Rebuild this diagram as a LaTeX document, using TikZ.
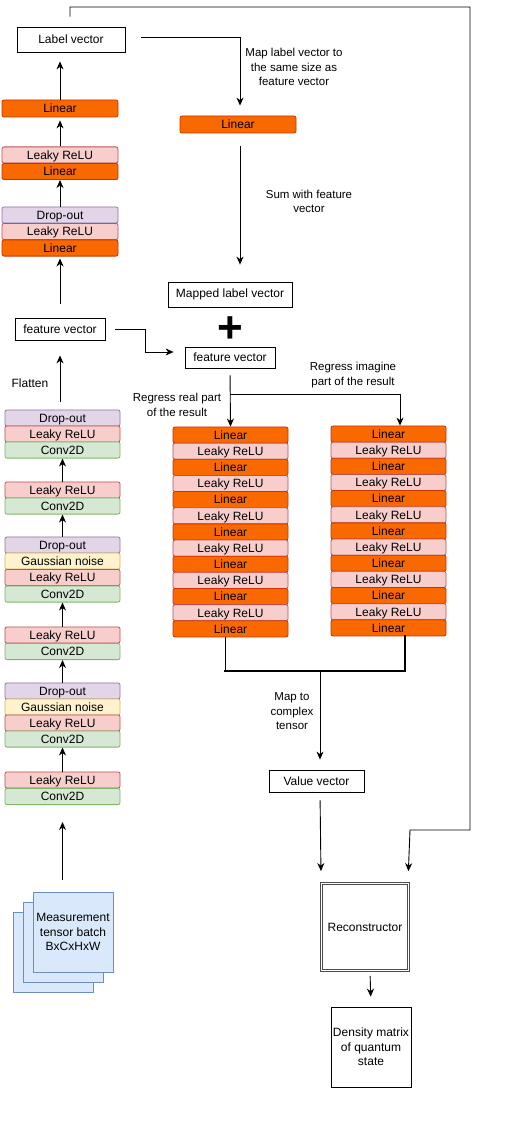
\documentclass[tikz,border=0pt]{standalone}
\usepackage{fontspec}
\setmainfont{Liberation Sans}
\usetikzlibrary{arrows.meta}
\definecolor{linF}{HTML}{FA6800}\definecolor{linD}{HTML}{C73500}
\definecolor{reluF}{HTML}{F8CECC}\definecolor{reluD}{HTML}{B85450}
\definecolor{dropF}{HTML}{E1D5E7}\definecolor{dropD}{HTML}{9673A6}
\definecolor{convF}{HTML}{D5E8D4}\definecolor{convD}{HTML}{82B366}
\definecolor{gausF}{HTML}{FFF2CC}\definecolor{gausD}{HTML}{D6B656}
\definecolor{measF}{HTML}{DAE8FC}\definecolor{measD}{HTML}{6C8EBF}
\begin{document}
\begin{tikzpicture}[x=1pt,y=-1pt,
 blk/.style={rectangle, rounded corners=2pt, minimum height=16.2pt, inner sep=0pt, line width=0.8pt, text height=8.6pt, text depth=0pt, font=\fontsize{12}{14.5}\selectfont},
 lin/.style={blk, fill=linF, draw=linD},
 relu/.style={blk, fill=reluF, draw=reluD},
 drop/.style={blk, fill=dropF, draw=dropD},
 conv/.style={blk, fill=convF, draw=convD},
 gaus/.style={blk, fill=gausF, draw=gausD},
 wa/.style={minimum width=116pt},
 wb/.style={minimum width=115pt},
 box/.style={rectangle, draw=black, line width=0.8pt, fill=white, inner sep=0pt, align=center, font=\fontsize{12}{14.5}\selectfont},
 measst/.style={draw=measD, fill=measF, line width=0.8pt},
 lbl/.style={inner sep=0pt, align=center, font=\fontsize{11.5}{14.5}\selectfont},
 arr/.style={-{Stealth[length=8pt,width=7pt,inset=2.5pt]}, line width=0.9pt},
 ln/.style={line width=0.9pt},
]
\useasboundingbox[fill=white] (0,0) rectangle (504,1134);

% label vector and top-left stack
\node[box, minimum width=108pt, minimum height=25pt] (lv) at (71,39.5) {Label vector};
\node[lin, wa, minimum height=17pt] (tl1) at (60,108.5) {Linear};
\node[relu, wa] (tl2) at (60,155) {Leaky ReLU};
\node[lin, wa] (tl3) at (60,171.5) {Linear};
\node[drop, wa] (tl4) at (60,215) {Drop-out};
\node[relu, wa] (tl5) at (60,231.5) {Leaky ReLU};
\node[lin, wa] (tl6) at (60,248) {Linear};

% middle top
\node[lin, minimum width=116pt, minimum height=17pt] (ml) at (238,124.5) {Linear};
\node[box, minimum width=124pt, minimum height=25pt] (mlv) at (230,294.5) {Mapped label vector};
\node[inner sep=0pt, font=\fontsize{44}{44}\selectfont\bfseries] (plus) at (230,330) {+};
\node[box, minimum width=90pt, minimum height=22pt] (fl) at (60,329) {feature vector};
\node[box, minimum width=90pt, minimum height=21pt] (fm) at (230,357.5) {feature vector};

% left lower stacks
\node[drop, wb] (a1) at (62.5,418) {Drop-out};
\node[relu, wb] (a2) at (62.5,434) {Leaky ReLU};
\node[conv, wb] (a3) at (62.5,450) {Conv2D};
\node[relu, wb] (b1) at (62.5,490) {Leaky ReLU};
\node[conv, wb] (b2) at (62.5,506) {Conv2D};
\node[drop, wb] (c1) at (62.5,545) {Drop-out};
\node[gaus, wb] (c2) at (62.5,561) {Gaussian noise};
\node[relu, wb] (c3) at (62.5,577.5) {Leaky ReLU};
\node[conv, wb] (c4) at (62.5,594) {Conv2D};
\node[relu, wb] (d1) at (62.5,635) {Leaky ReLU};
\node[conv, wb] (d2) at (62.5,651.5) {Conv2D};
\node[drop, wb] (e1) at (62.5,691) {Drop-out};
\node[gaus, wb] (e2) at (62.5,707) {Gaussian noise};
\node[relu, wb] (e3) at (62.5,723) {Leaky ReLU};
\node[conv, wb] (e4) at (62.5,739) {Conv2D};
\node[relu, wb] (f1) at (62.5,780) {Leaky ReLU};
\node[conv, wb] (f2) at (62.5,796.5) {Conv2D};

% measurement stack
\draw[measst] (13,912) rectangle (93,992);
\draw[measst] (23,902) rectangle (103,982);
\node[rectangle, measst, minimum width=80pt, minimum height=80pt, inner sep=0pt, align=center, font=\fontsize{12}{14.5}\selectfont] (meas) at (73,932) {Measurement\\tensor batch\\BxCxHxW};

% middle columns
\foreach \i in {1,...,13}{
  \pgfmathsetmacro\cyr{427+16.15*(\i-0.5)}
  \pgfmathsetmacro\cyi{426+16.15*(\i-0.5)}
  \ifodd\i
    \node[lin, wb] (r\i) at (230.5,\cyr) {Linear};
    \node[lin, wb] (i\i) at (388.5,\cyi) {Linear};
  \else
    \node[relu, wb] (r\i) at (230.5,\cyr) {Leaky ReLU};
    \node[relu, wb] (i\i) at (388.5,\cyi) {Leaky ReLU};
  \fi
}

% bottom right
\node[box, minimum width=95pt, minimum height=22pt] (vv) at (316.5,781) {Value vector};
\node[box, draw=black!70, double=white, double distance=1.6pt, minimum width=87pt, minimum height=87pt] (rec) at (365,927) {Reconstructor};
\node[box, minimum width=80pt, minimum height=80pt] (dm) at (371,1047) {Density matrix\\of quantum\\state};

% labels
\node[lbl] (t1) at (294,67) {Map label vector to\\the same size as\\feature vector};
\node[lbl] (t2) at (309,201.5) {Sum with feature\\vector};
\node[lbl, font=\fontsize{12}{14.5}\selectfont] (t3) at (30,383) {Flatten};
\node[lbl] (t4) at (177,405) {Regress real part\\of the result};
\node[lbl] (t5) at (353,375) {Regress imagine\\part of the result};
\node[lbl] (t6) at (292,711.5) {Map to\\complex\\tensor};

% connectors top-left
\draw[arr, shorten >=9pt] (tl1.north) -- (tl1.north |- lv.south);
\draw[arr, shorten >=3pt] (tl2.north) -- (tl1.south);
\draw[arr] (tl4.north) -- (tl3.south);
\draw[arr, shorten <=14pt, shorten >=2pt] (fl.north) -- (tl6.south);

% label vector feedback to reconstructor
\draw[ln, -{Stealth[length=8pt,width=7pt,inset=2.5pt]}, shorten >=12pt]
  ([xshift=-1pt, yshift=10pt]lv.north) |- (470,7) -- (470,830) -- (410,830) -- ([xshift=-1pt]rec.north east);
% map label vector
\draw[arr, shorten >=10pt] ([xshift=16pt, yshift=2.5pt]lv.east) -| ([xshift=2pt]ml.north);
\draw[arr, shorten <=13pt, shorten >=17pt] ([xshift=2pt]ml.south) -- ([xshift=10pt]mlv.north);
% feature vector to feature vector
\draw[arr] ([xshift=10pt]fl.east) -| (145,352) -- ([xshift=-11pt, yshift=5.5pt]fm.west);
% split
\draw[arr, shorten <=7pt] (fm.south) -- (r1.north);
\draw[arr] ([yshift=-26pt]fm.south) -| ([xshift=11.5pt]i1.north);

% left column arrows
\draw[arr, shorten <=8pt, shorten >=15pt] (a1.north -| fl.south) -- (fl.south);
\draw[arr] (b1.north) -- (a3.south);
\draw[arr] (c1.north) -- (b2.south);
\draw[arr] (d1.north) -- (c4.south);
\draw[arr] (e1.north) -- (d2.south);
\draw[arr] (f1.north) -- (e4.south);
\draw[arr, shorten <=12pt, shorten >=17pt] (meas.north -| f2.south) -- (f2.south);

% merge
\coordinate (mj) at (320,671);
\coordinate (ml1) at ([xshift=-5.5pt]r13.south |- mj);
\coordinate (mr1) at ([xshift=16.5pt]i13.south |- mj);
\draw[line width=1pt] ([xshift=-5.5pt]r13.south) -- (ml1);
\draw[line width=2pt, line cap=rect] ([xshift=16.5pt]i13.south) -- (mr1) -- (ml1);
\draw[arr, shorten >=10pt] (mj) -- (mj |- vv.north);
\draw[arr, shorten <=8pt, shorten >=12pt] ([xshift=3.5pt]vv.south) -- (rec.north west);
\draw[arr, shorten <=5pt, shorten >=10pt] ([xshift=5pt]rec.south) -- (dm.north);
\end{tikzpicture}
\end{document}
